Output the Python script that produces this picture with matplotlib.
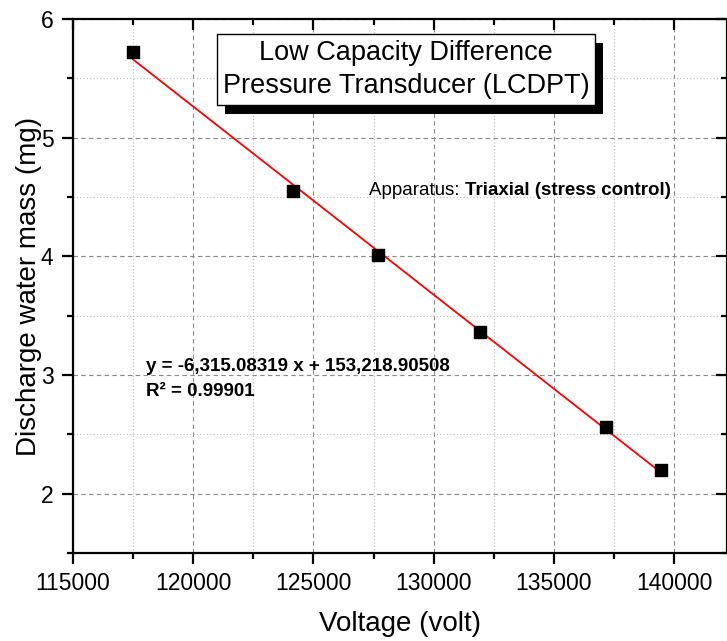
import numpy as np
import matplotlib.pyplot as plt
import matplotlib.patheffects as pe
from matplotlib.ticker import MultipleLocator

plt.rcParams['font.family'] = ['Liberation Sans', 'DejaVu Sans']

voltage = [117500, 124130, 127670, 131930, 137160, 139470]
mass = [5.72, 4.55, 4.01, 3.36, 2.56, 2.20]

title_text = 'Low Capacity Difference\nPressure Transducer (LCDPT)'
eq_text = 'y = -6,315.08319 x + 153,218.90508\nR² = 0.99901'

fig = plt.figure(figsize=(7.27, 6.41), dpi=100)
ax = fig.add_axes([73 / 727, 88 / 641, 654 / 727, 534 / 641])

# linear fit through the points
coef = np.polyfit(voltage, mass, 1)
xs = np.array([voltage[0], voltage[-1]])
ax.plot(xs, np.polyval(coef, xs), color='red', lw=1.3, zorder=3)
ax.scatter(voltage, mass, marker='s', s=65, color='black', zorder=4)

ax.set_xlim(115000, 142200)
ax.set_ylim(1.5, 6)
ax.xaxis.set_major_locator(MultipleLocator(5000))
ax.xaxis.set_minor_locator(MultipleLocator(2500))
ax.yaxis.set_major_locator(MultipleLocator(1))
ax.yaxis.set_minor_locator(MultipleLocator(0.5))

ax.grid(which='major', ls=(0, (4, 3)), color='#8a8a8a', lw=0.8)
ax.grid(which='minor', ls=(0, (1, 2)), color='#bbbbbb', lw=0.8)
ax.set_axisbelow(True)

for side in ['left', 'bottom', 'top', 'right']:
    ax.spines[side].set_linewidth(1.6)
ax.tick_params(which='both', direction='out', width=1.6, labelsize=16.5)
ax.tick_params(which='major', length=8, pad=6)
ax.tick_params(which='minor', length=4.5)
ax.tick_params(which='both', top=True, right=True)
# top/right ticks point inward
for t in ax.xaxis.get_major_ticks() + ax.xaxis.get_minor_ticks():
    t.tick2line.set_marker(3)
for t in ax.yaxis.get_major_ticks() + ax.yaxis.get_minor_ticks():
    t.tick2line.set_marker(0)

ax.set_xlabel('Voltage (volt)', fontsize=20, labelpad=11)
ax.set_ylabel('Discharge water mass (mg)', fontsize=20, labelpad=-1)

box = ax.text(0.509, 0.905, title_text, transform=ax.transAxes, ha='center', va='center',
              fontsize=19.5, linespacing=1.35, zorder=6,
              bbox=dict(boxstyle='square,pad=0.22', fc='white', ec='black', lw=1))
box.get_bbox_patch().set_path_effects([
    pe.SimplePatchShadow(offset=(6, -6), shadow_rgbFace='black', alpha=1),
    pe.Normal()])

t1 = ax.text(0.453, 0.678, 'Apparatus: ', transform=ax.transAxes, ha='left', va='center',
             fontsize=13.5, zorder=6)
ax.annotate('Triaxial (stress control)', xy=(1, 0), xycoords=t1, ha='left', va='bottom',
            fontsize=13.5, fontweight='bold', zorder=6)

ax.text(0.112, 0.366, eq_text, transform=ax.transAxes, ha='left', va='top',
        fontsize=13.5, fontweight='bold', linespacing=1.65, zorder=6)

plt.savefig('out.png', dpi=100)
